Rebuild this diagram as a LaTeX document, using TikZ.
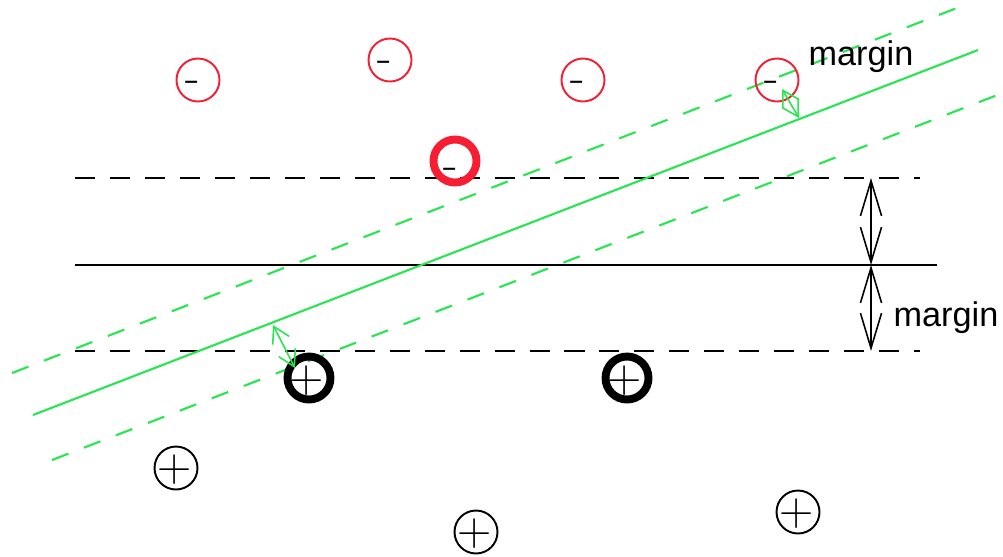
\documentclass[tikz,border=0pt]{standalone}
\usepackage{fontspec}
\newfontfamily\arial{Liberation Sans}
\usetikzlibrary{arrows.meta}
\definecolor{gr}{RGB}{40,230,80}
\definecolor{rd}{RGB}{245,30,50}
\tikzset{
  thinc/.style={circle,draw,line width=1.1pt,minimum size=43*0.569pt,inner sep=0pt},
  boldc/.style={circle,draw,line width=4.5pt,minimum size=43*0.569pt,inner sep=0pt},
  sgn/.style={font=\fontsize{27}{27}\selectfont,inner sep=0pt,anchor=center},
  lbl/.style={font=\arial\fontsize{19.5}{22}\selectfont,inner sep=0pt},
  bdash/.style={line width=1.1pt,dash pattern=on 11.4pt off 8.5pt},
  gdash/.style={gr,line width=1.2pt,dash pattern=on 10pt off 9.5pt},
  bar/.style={line width=0.9pt,{Straight Barb[length=20pt,width=12pt]}-{Straight Barb[length=20pt,width=12pt]}},
  garr/.style={gr,line width=0.9pt,{Straight Barb[length=9pt,width=10.5pt]}-{Straight Barb[length=9pt,width=10.5pt]}}
}
\begin{document}
\begin{tikzpicture}[x=0.02cm,y=-0.02cm]
\useasboundingbox (0,0) rectangle (1003,556);
% black lines
\coordinate (d1a) at (75,178); \coordinate (d1b) at (920,178);
\coordinate (ma) at (75,265); \coordinate (mb) at (937,265);
\coordinate (d2a) at (75,351); \coordinate (d2b) at (920,351);
\draw[bdash] (d1a) -- (d1b);
\draw[bdash] (d2a) -- (d2b);
\draw[line width=1.1pt] (ma) -- (mb);
\coordinate (v1) at (871,178); \coordinate (v2) at (871,265); \coordinate (v3) at (871,351);
\draw[bar] (v1) -- (v2);
\draw[bar] (v2) -- (v3);
% green lines
\coordinate (g1) at (33,415); \coordinate (g2) at (978,50);
\coordinate (u1) at (12,373); \coordinate (u2) at (962,6);
\coordinate (l1) at (52,460); \coordinate (l2) at (1000,94);
\draw[gr,line width=1.2pt] (g1) -- (g2);
\draw[gdash] (u1) -- (u2);
\draw[gdash] (l1) -- (l2);
% negative samples
\node[thinc,rd] (n1) at (198,80) {};
\node[thinc,rd] (n2) at (390,60) {};
\node[thinc,rd] (n3) at (583,80) {};
\node[thinc,rd] (n4) at (777,80) {};
\node[boldc,rd] (n5) at (455,161) {};
\node[sgn] (m1) at (193,87) {-};
\node[sgn] (m2) at (385,67) {-};
\node[sgn] (m3) at (578,87) {-};
\node[sgn] (m4) at (772,87) {-};
\node[sgn] (m5) at (451,174) {-};
% positive samples
\node[boldc] (p1) at (309,378) {};
\node[boldc] (p2) at (627,378) {};
\node[thinc] (p3) at (176,468) {};
\node[thinc] (p4) at (476,532) {};
\node[thinc] (p5) at (798,512) {};
\node[sgn] (q1) at (307,381) {+};
\node[sgn] (q2) at (625,381) {+};
\node[sgn] (q3) at (175,470) {+};
\node[sgn] (q4) at (475,534) {+};
\node[sgn] (q5) at (797,514) {+};
% green margin arrows
\coordinate (ga1) at (799,118); \coordinate (ga2) at (782,89);
\coordinate (gb1) at (273,325); \coordinate (gb2) at (295,368);
\draw[garr] (ga1) -- (ga2);
\draw[garr] (gb1) -- (gb2);
% labels
\node[lbl] (t1) at (861,57) {margin};
\node[lbl] (t2) at (946,318) {margin};
\end{tikzpicture}
\end{document}
